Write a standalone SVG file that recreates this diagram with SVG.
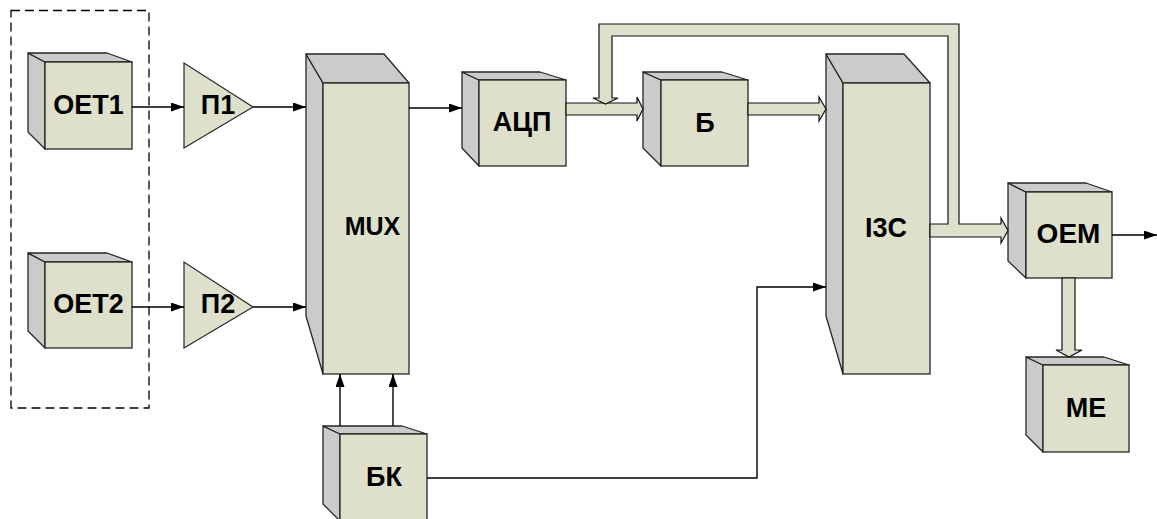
<svg xmlns="http://www.w3.org/2000/svg" width="1157" height="519" viewBox="0 0 1157 519">
<defs>
<style>
.front{fill:#dee0cb;stroke:#262626;stroke-width:1.3}
.side{fill:#cbcbcb;stroke:#262626;stroke-width:1.3;stroke-linejoin:round}
.tri{fill:#dee0cb;stroke:#262626;stroke-width:1.2}
.fat{fill:#dee0cb;stroke:#111;stroke-width:1.2;stroke-linejoin:miter}
.ln{fill:none;stroke:#000;stroke-width:1.4}
.lbl{font-family:"Liberation Sans",Arial,sans-serif;font-weight:bold;font-size:27px;fill:#000;text-anchor:middle}
.dash{fill:none;stroke:#000;stroke-width:1.3;stroke-dasharray:9,5}
</style>
<marker id="ah" markerUnits="userSpaceOnUse" markerWidth="14" markerHeight="10" refX="13" refY="4.5" orient="auto">
<path d="M0,0 L13,4.5 L0,9 z" fill="#000"/>
</marker>
</defs>
<rect class="dash" x="11" y="10.5" width="138" height="397.5"/>
<g id="OET1">
<polygon class="side" points="28,53 45,62 45,149 28,132"/>
<polygon class="side" points="28,53 107,53 132,62 45,62"/>
<rect class="front" x="45" y="62" width="87" height="87"/>
<text class="lbl" x="88.5" y="114">OET1</text>
</g>
<g id="OET2">
<polygon class="side" points="28,253 45,262 45,348 28,331"/>
<polygon class="side" points="28,253 107,253 132,262 45,262"/>
<rect class="front" x="45" y="262" width="87" height="86"/>
<text class="lbl" x="88.5" y="313">OET2</text>
</g>
<g id="P1">
<polygon class="tri" points="184,63 184,148 253,107"/>
<text class="lbl" x="218" y="114">П1</text>
</g>
<g id="P2">
<polygon class="tri" points="184,262 184,348 253,307"/>
<text class="lbl" x="218" y="313">П2</text>
</g>
<g id="MUX">
<polygon class="side" points="306,54 323,83 323,374 306,316"/>
<polygon class="side" points="306,54 384,54 409,83 323,83"/>
<rect class="front" x="323" y="83" width="86" height="291"/>
<text class="lbl" x="372.5" y="235" style="font-size:25px">MUX</text>
</g>
<g id="ADC">
<polygon class="side" points="462,72 479,80 479,166 462,148"/>
<polygon class="side" points="462,72 540,72 566,80 479,80"/>
<rect class="front" x="479" y="80" width="87" height="86"/>
<text class="lbl" x="522" y="131">АЦП</text>
</g>
<g id="B">
<polygon class="side" points="643,72 661,80 661,166 643,148"/>
<polygon class="side" points="643,72 722,72 748,80 661,80"/>
<rect class="front" x="661" y="80" width="87" height="86"/>
<text class="lbl" x="705" y="131.5">Б</text>
</g>
<g id="IZS">
<polygon class="side" points="826,54 843,83 843,374 826,316"/>
<polygon class="side" points="826,54 904,54 930,83 843,83"/>
<rect class="front" x="843" y="83" width="87" height="291"/>
<text class="lbl" x="886" y="237">І3С</text>
</g>
<g id="OEM">
<polygon class="side" points="1008,183 1026,192 1026,278 1008,261"/>
<polygon class="side" points="1008,183 1086,183 1112,192 1026,192"/>
<rect class="front" x="1026" y="192" width="86" height="86"/>
<text class="lbl" x="1068.5" y="243" style="font-size:28px">OEM</text>
</g>
<g id="ME">
<polygon class="side" points="1026,357 1043,365 1043,452 1026,435"/>
<polygon class="side" points="1026,357 1104,357 1129,365 1043,365"/>
<rect class="front" x="1043" y="365" width="86" height="87"/>
<text class="lbl" x="1086" y="416.5">ME</text>
</g>
<g id="BK">
<polygon class="side" points="323,426 340,434 340,521 323,504"/>
<polygon class="side" points="323,426 402,426 427,434 340,434"/>
<rect class="front" x="340" y="434" width="87" height="88"/>
<text class="lbl" x="384" y="485.5">БК</text>
</g>
<g id="connectors">
<line class="ln" x1="132" y1="107" x2="184" y2="107" marker-end="url(#ah)"/>
<line class="ln" x1="253" y1="107" x2="306" y2="107" marker-end="url(#ah)"/>
<line class="ln" x1="132" y1="307" x2="184" y2="307" marker-end="url(#ah)"/>
<line class="ln" x1="253" y1="307" x2="306" y2="307" marker-end="url(#ah)"/>
<line class="ln" x1="409" y1="108" x2="462" y2="108" marker-end="url(#ah)"/>
<line class="ln" x1="340" y1="426" x2="340" y2="374" marker-end="url(#ah)"/>
<line class="ln" x1="393" y1="426" x2="393" y2="374" marker-end="url(#ah)"/>
<polyline class="ln" points="427,478 757,478 757,287 826,287" marker-end="url(#ah)"/>
<line class="ln" x1="1112" y1="235" x2="1157" y2="235" marker-end="url(#ah)"/>
<polygon class="fat" points="566,103 637,103 637,97 643,109 637,121 637,115 566,115"/>
<polygon class="fat" points="748,103 819,103 819,97 826,109 819,121 819,115 748,115"/>
<polygon class="fat" points="930,224 948,224 948,36 612,36 612,98 618,98 605.5,104 593,98 599,98 599,24 959,24 959,224 1001,224 1001,218 1008,230.5 1001,243 1001,237 930,237"/>
<polygon class="fat" points="1062,278 1062,350 1056,350 1069,357 1082,350 1075,350 1075,278"/>
</g>
</svg>
